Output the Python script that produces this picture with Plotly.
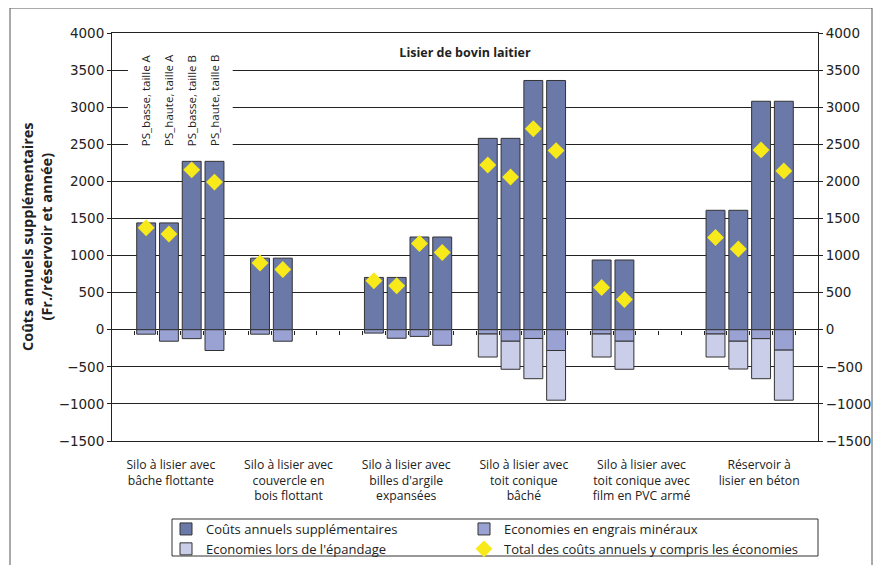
import plotly.graph_objects as go

# ---------------- data ----------------
categories = [
    "Silo à lisier avec<br>bâche flottante",
    "Silo à lisier avec<br>couvercle en<br>bois flottant",
    "Silo à lisier avec<br>billes d'argile<br>expansées",
    "Silo à lisier avec<br>toit conique<br>bâché",
    "Silo à lisier avec<br>toit conique avec<br>film en PVC armé",
    "Réservoir à<br>lisier en béton",
]
variants = ["PS_basse, taille A", "PS_haute, taille A", "PS_basse, taille B", "PS_haute, taille B"]

couts = [
    [1440, 1440, 2270, 2270],
    [965, 965, None, None],
    [705, 705, 1250, 1250],
    [2580, 2580, 3360, 3360],
    [940, 940, None, None],
    [1610, 1610, 3080, 3080],
]
engrais = [
    [-60, -155, -120, -280],
    [-60, -155, None, None],
    [-45, -115, -90, -210],
    [-58, -155, -118, -280],
    [-58, -155, None, None],
    [-58, -155, -120, -275],
]
epandage = [
    [None, None, None, None],
    [None, None, None, None],
    [None, None, None, None],
    [-310, -378, -542, -670],
    [-310, -378, None, None],
    [-310, -375, -540, -675],
]
total = [
    [1375, 1290, 2155, 1990],
    [900, 812, None, None],
    [660, 593, 1163, 1042],
    [2220, 2058, 2710, 2415],
    [570, 408, None, None],
    [1243, 1088, 2424, 2141],
]
series_names = [
    "Coûts annuels supplémentaires",
    "Economies en engrais minéraux",
    "Economies lors de l'épandage",
    "Total des coûts annuels y compris les économies",
]
title_text = "Lisier de bovin laitier"
y_title = "Coûts annuels supplémentaires<br>(Fr./réservoir et année)"

# ---------------- layout helpers ----------------
# the page body has an 8px margin: the figure is drawn at (8, 8) in the window
OFF = 8
WIN_W, WIN_H = 881, 565
PLOT_L, PLOT_R, PLOT_T, PLOT_B = 112, 818, 33, 441   # plot area in window pixels
W, H = WIN_W - OFF, WIN_H - OFF
L, T = PLOT_L - OFF, PLOT_T - OFF
R, B = WIN_W - PLOT_R, WIN_H - PLOT_B
PW, PH = PLOT_R - PLOT_L, PLOT_B - PLOT_T
NSLOT = 31
YMIN, YMAX = -1500, 4000


def px_x(win_px):
    return (win_px - PLOT_L) / PW


def px_y(win_py):
    return (PLOT_B - win_py) / PH


xs, c_vals, e_vals, p_vals, t_vals = [], [], [], [], []
for g in range(len(categories)):
    for v in range(len(variants)):
        xs.append(5 * g + v + 1.5)
        c_vals.append(couts[g][v])
        e_vals.append(engrais[g][v])
        p_vals.append(epandage[g][v])
        t_vals.append(total[g][v])

label_pos = [(2 * g + 1) * NSLOT / 12 for g in range(len(categories))]

FONT = "Open Sans"
DARK = "#222222"
BW = 0.83
outline = dict(color="#333333", width=1)

fig = go.Figure()
fig.add_trace(go.Bar(x=xs, y=c_vals, width=BW, name=series_names[0], legend="legend",
                     marker=dict(color="#6B79A8", line=outline), hoverinfo="skip"))
fig.add_trace(go.Bar(x=xs, y=e_vals, width=BW, name=series_names[1], legend="legend2",
                     marker=dict(color="#9AA2D3", line=outline), hoverinfo="skip"))
fig.add_trace(go.Bar(x=xs, y=p_vals, width=BW, name=series_names[2], legend="legend",
                     marker=dict(color="#CACEE8", line=outline), hoverinfo="skip"))
fig.add_trace(go.Scatter(x=xs, y=t_vals, mode="markers", name=series_names[3],
                         legend="legend2",
                         marker=dict(symbol="diamond", size=13, color="#F8EA1A",
                                     line=dict(width=0)), hoverinfo="skip"))
# helper trace for the secondary axes (zero-line ticks and right labels)
fig.add_trace(go.Scatter(x=[None], y=[None], xaxis="x2", yaxis="y2",
                         showlegend=False, hoverinfo="skip"))

annotations = []
for v, name in enumerate(variants):
    annotations.append(dict(x=v + 1.5, y=2450, xref="x", yref="y", text=name,
                            textangle=-90, showarrow=False, xanchor="center",
                            yanchor="bottom", font=dict(family=FONT, size=11.5, color=DARK)))
# y-axis title
annotations.append(dict(x=px_x(37), y=0.5, xref="paper", yref="paper",
                        text="<b>" + y_title + "</b>", textangle=-90, showarrow=False,
                        xanchor="center", yanchor="middle",
                        font=dict(family=FONT, size=14.5, color=DARK)))

shapes = [
    # white box behind the rotated labels
    dict(type="rect", xref="x", yref="y", x0=0.7, x1=5.3, y0=2350, y1=3850,
         fillcolor="white", line=dict(width=0), layer="above"),
    # outer frame
    dict(type="rect", xref="paper", yref="paper", x0=px_x(10), x1=px_x(872),
         y0=px_y(580), y1=px_y(8), line=dict(color="#555555", width=1),
         fillcolor="rgba(0,0,0,0)", layer="above"),
    # legend frame
    dict(type="rect", xref="paper", yref="paper", x0=px_x(172), x1=px_x(818),
         y0=px_y(556), y1=px_y(519), line=dict(color="#333333", width=1),
         fillcolor="rgba(0,0,0,0)", layer="above"),
]

legend_common = dict(orientation="v", xanchor="left", yanchor="top",
                     borderwidth=0, bgcolor="rgba(0,0,0,0)", tracegroupgap=0,
                     itemwidth=30, font=dict(family=FONT, size=13, color=DARK))

fig.update_layout(
    width=W, height=H,
    margin=dict(l=L, r=R, t=T, b=B, autoexpand=False),
    paper_bgcolor="white", plot_bgcolor="white",
    barmode="relative",
    font=dict(family=FONT, color=DARK),
    title=dict(text="<b>" + title_text + "</b>", x=0.5, xref="paper",
               y=1 - (53 - OFF) / H, yanchor="middle", xanchor="center",
               font=dict(family=FONT, size=12.5, color=DARK)),
    xaxis=dict(range=[0, NSLOT], tickvals=label_pos, ticktext=categories,
               ticks="", showgrid=False, zeroline=False, showline=True,
               mirror=True, linecolor=DARK, linewidth=1,
               tickfont=dict(family=FONT, size=12.2, color=DARK),
               ticklabelstandoff=12),
    xaxis2=dict(range=[0, NSLOT], overlaying="x", anchor="free",
                position=(0 - YMIN) / (YMAX - YMIN),
                tickvals=list(range(1, NSLOT)), ticks="outside", ticklen=4,
                tickcolor=DARK, showticklabels=False, showgrid=False,
                zeroline=False, showline=False),
    yaxis=dict(range=[YMIN, YMAX], tick0=0, dtick=500, showgrid=True,
               gridcolor=DARK, gridwidth=1, zeroline=True, zerolinecolor=DARK,
               zerolinewidth=1, showline=True, mirror=True, linecolor=DARK,
               ticks="outside", ticklen=4, tickcolor=DARK,
               tickfont=dict(family="DejaVu Sans", size=13.5, color=DARK)),
    yaxis2=dict(range=[YMIN, YMAX], tick0=0, dtick=500, overlaying="y",
                side="right", anchor="x", showgrid=False, zeroline=False,
                showline=False, ticks="outside", ticklen=4, tickcolor=DARK,
                tickfont=dict(family="DejaVu Sans", size=13.5, color=DARK)),
    legend=dict(x=px_x(166), y=px_y(514), **legend_common),
    legend2=dict(x=px_x(464), y=px_y(514), **legend_common),
    annotations=annotations,
    shapes=shapes,
    showlegend=True,
)

fig.write_html("out.html")
